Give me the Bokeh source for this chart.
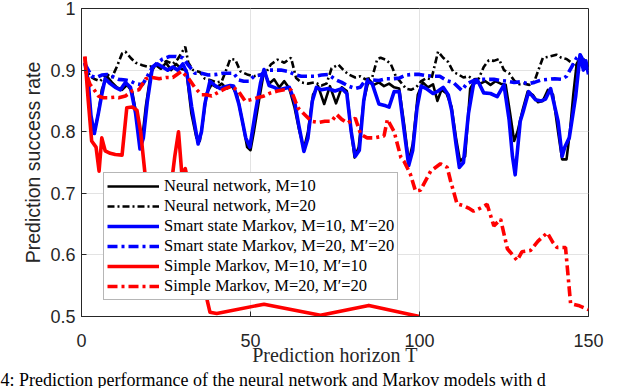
from bokeh.plotting import figure
from bokeh.models import Legend, LegendItem, FixedTicker, Range1d, Title
from bokeh.embed import file_html
from bokeh.resources import INLINE

# ---------------- data ----------------
x_ticks = [0, 50, 100, 150]
y_ticks = [0.5, 0.6, 0.7, 0.8, 0.9, 1.0]
y_tick_labels = ["0.5", "0.6", "0.7", "0.8", "0.9", "1"]

labels = [
    "Neural network, M=10",
    "Neural network, M=20",
    "Smart state Markov, M=10, M\u2032=20",
    "Smart state Markov, M=20, M\u2032=20",
    "Simple Markov, M=10, M\u2032=10",
    "Simple Markov, M=20, M\u2032=20",
]

nn10_T = [1, 2, 3, 3.8, 5, 6, 7.5, 9, 10.5, 12, 13.5, 15, 16.5, 17.7, 19, 20.5, 22, 23.5, 25, 26.5,
          28, 29.5, 31, 32.5, 34, 35, 36, 37, 38.5, 40, 41.5, 43, 44.5, 46, 47.5, 49, 50, 51, 52.5, 54,
          55.5, 57, 58.5, 60, 61.5, 63, 64.5, 65.8, 67, 68.5, 70, 71.8, 73.5, 75.3, 77, 78.5, 79.8, 80.8,
          82, 83.5, 85, 86.5, 88, 89.5, 91, 92.5, 94, 95.5, 96.8, 98, 99.5, 101, 102.5, 104, 105.3, 106.5,
          108, 109.5, 110.8, 112, 113.5, 115, 116.5, 118, 119.5, 121, 122.5, 124, 125.5, 126.8, 128, 129,
          130.5, 132, 133.5, 135, 136.5, 138, 139.5, 141, 142.2, 143.5, 144.5, 145.5, 146.5, 147.5, 148.5, 150]
nn10 = [0.912, 0.875, 0.81, 0.80, 0.83, 0.868, 0.89, 0.88, 0.872, 0.868, 0.876, 0.865, 0.82, 0.775, 0.84,
        0.895, 0.91, 0.902, 0.912, 0.90, 0.91, 0.902, 0.90, 0.83, 0.79, 0.785, 0.82, 0.862, 0.877, 0.872,
        0.878, 0.87, 0.874, 0.86, 0.82, 0.775, 0.77, 0.80, 0.85, 0.898, 0.878, 0.885, 0.872, 0.882, 0.87,
        0.84, 0.80, 0.772, 0.80, 0.86, 0.874, 0.845, 0.874, 0.846, 0.872, 0.866, 0.80, 0.758, 0.775, 0.85,
        0.885, 0.876, 0.88, 0.874, 0.878, 0.872, 0.87, 0.81, 0.752, 0.78, 0.86, 0.88, 0.872, 0.877, 0.85,
        0.868, 0.862, 0.84, 0.79, 0.752, 0.76, 0.87, 0.884, 0.878, 0.882, 0.876, 0.882, 0.878, 0.876, 0.83,
        0.785, 0.80, 0.835, 0.865, 0.86, 0.848, 0.85, 0.868, 0.86, 0.80, 0.755, 0.755, 0.80, 0.86, 0.91,
        0.92, 0.905, 0.90]

nn20_T = [1, 2.5, 4, 5.5, 7.5, 9, 10.5, 12, 13, 14.5, 16, 18, 20, 22, 23.5, 25, 27, 28.5, 30.7, 31.6, 33,
          35, 36.5, 38, 40, 41.5, 43, 44, 45.5, 47, 49, 51, 53, 54.5, 56, 58, 60, 62, 63.5, 65, 67, 69, 71,
          72.5, 74, 76, 77.5, 79, 81, 82.5, 84, 86, 87.5, 88.5, 90, 91.5, 93, 94.5, 96, 97.5, 99, 100.5, 102,
          103.5, 105.5, 107, 108.5, 110, 111.5, 113, 114.5, 116, 117.5, 119, 120.5, 122, 123.5, 125, 126.5,
          128, 129.5, 131, 132.5, 134, 135.5, 136.5, 138.5, 140.5, 142, 143.5, 145, 146, 147, 148.5, 150]
nn20 = [0.91, 0.89, 0.885, 0.882, 0.893, 0.888, 0.906, 0.927, 0.93, 0.92, 0.912, 0.908, 0.905, 0.908,
        0.902, 0.915, 0.91, 0.918, 0.938, 0.912, 0.90, 0.897, 0.886, 0.884, 0.88, 0.882, 0.903, 0.918,
        0.917, 0.898, 0.893, 0.89, 0.893, 0.895, 0.909, 0.917, 0.912, 0.92, 0.887, 0.88, 0.878, 0.88, 0.875,
        0.878, 0.903, 0.909, 0.90, 0.893, 0.888, 0.89, 0.885, 0.888, 0.918, 0.92, 0.917, 0.91, 0.89, 0.88,
        0.87, 0.868, 0.872, 0.882, 0.887, 0.885, 0.93, 0.92, 0.913, 0.897, 0.893, 0.888, 0.89, 0.885, 0.886,
        0.905, 0.916, 0.915, 0.918, 0.90, 0.895, 0.883, 0.877, 0.878, 0.876, 0.882, 0.905, 0.92, 0.922,
        0.925, 0.92, 0.918, 0.912, 0.905, 0.912, 0.918, 0.905]

ss10_T = [1, 2, 2.8, 3.8, 5, 6, 7, 8.5, 10, 11.5, 13, 14.5, 16, 17.3, 18.3, 19.5, 21, 22.5, 24, 25.5, 27,
          28.5, 30, 31.2, 32.6, 34.5, 35.5, 36.5, 38, 39.5, 41, 42.5, 44, 45, 46.6, 48.6, 49.8, 51.5, 53, 54,
          55.5, 57, 58.5, 60, 61.5, 63, 64.3, 65.8, 67, 68.3, 69.5, 71, 73, 75, 77, 78.5, 79.8, 81, 82.2,
          83.5, 84.5, 86, 88, 90, 91, 92.5, 94, 95.5, 96.8, 98, 99.3, 100.5, 102, 104, 105.5, 107, 108.5,
          109.5, 110.8, 111.8, 113, 114.5, 116, 117.3, 119, 121, 123, 125, 126.5, 127.5, 128.3, 129.8, 130.8,
          132.3, 134.3, 136, 137.3, 138.8, 141, 142.2, 143, 144.3, 146.2, 147.5, 148.5, 149.2, 150]
ss10 = [0.912, 0.88, 0.826, 0.797, 0.83, 0.86, 0.886, 0.878, 0.872, 0.868, 0.88, 0.872, 0.83, 0.772, 0.79,
        0.85, 0.905, 0.91, 0.905, 0.90, 0.905, 0.90, 0.91, 0.895, 0.84, 0.78, 0.80, 0.845, 0.882, 0.875,
        0.87, 0.873, 0.875, 0.874, 0.844, 0.79, 0.775, 0.833, 0.88, 0.901, 0.875, 0.872, 0.868, 0.87, 0.872,
        0.85, 0.81, 0.768, 0.79, 0.85, 0.872, 0.868, 0.87, 0.866, 0.87, 0.862, 0.80, 0.76, 0.77, 0.85,
        0.882, 0.878, 0.845, 0.842, 0.84, 0.865, 0.865, 0.80, 0.745, 0.77, 0.84, 0.874, 0.87, 0.862, 0.866,
        0.872, 0.86, 0.835, 0.78, 0.742, 0.75, 0.83, 0.878, 0.882, 0.863, 0.862, 0.857, 0.876, 0.82, 0.76,
        0.73, 0.817, 0.835, 0.865, 0.852, 0.85, 0.853, 0.87, 0.817, 0.76, 0.775, 0.79, 0.857, 0.925, 0.90,
        0.915, 0.893]

ss20_T = [1, 3, 4.5, 6, 7.5, 9, 11, 13, 14.5, 16, 18, 19.3, 21, 22.5, 24, 26, 28, 30, 31.6, 33.5, 35.5,
          37.5, 40, 42, 45, 46.5, 48, 49.5, 51, 53, 55, 57, 59, 61, 63, 65, 67, 69, 71, 73, 75, 77, 79, 81,
          82.5, 84, 86, 88, 90, 92, 94, 96, 98, 100, 102, 104, 106, 108, 110, 112.5, 114, 116, 118, 120, 122,
          124, 126, 128, 130, 132, 134, 136, 138, 140, 142, 143.5, 145, 146.5, 147.5, 148.5, 150]
ss20 = [0.91, 0.89, 0.888, 0.892, 0.893, 0.89, 0.885, 0.884, 0.882, 0.878, 0.876, 0.888, 0.905, 0.912,
        0.918, 0.922, 0.922, 0.92, 0.908, 0.895, 0.895, 0.892, 0.893, 0.895, 0.895, 0.884, 0.882, 0.882,
        0.89, 0.892, 0.90, 0.90, 0.90, 0.898, 0.893, 0.89, 0.89, 0.89, 0.892, 0.893, 0.885, 0.88, 0.874,
        0.87, 0.872, 0.884, 0.884, 0.883, 0.886, 0.886, 0.887, 0.892, 0.893, 0.893, 0.891, 0.89, 0.89,
        0.883, 0.88, 0.867, 0.878, 0.883, 0.885, 0.885, 0.885, 0.883, 0.882, 0.88, 0.881, 0.878, 0.88,
        0.884, 0.885, 0.886, 0.885, 0.89, 0.905, 0.92, 0.925, 0.915, 0.908]

sm10_T = [1, 2, 3, 4.3, 5.2, 6, 7, 8.5, 10, 12, 13.4, 15, 16.4, 17.5, 18.8, 20.3, 21.3, 23, 25, 26.7, 27.6,
          28.7, 29.7, 30.7, 31.7, 33, 35, 37.2, 38, 40, 54, 70.7, 85, 100]
sm10 = [0.922, 0.85, 0.785, 0.775, 0.736, 0.79, 0.769, 0.765, 0.763, 0.762, 0.839, 0.84, 0.835, 0.80,
        0.731, 0.73, 0.72, 0.70, 0.70, 0.72, 0.76, 0.80, 0.73, 0.74, 0.715, 0.68, 0.62, 0.526, 0.507, 0.505,
        0.52, 0.502, 0.518, 0.50]

sm20_T = [1, 1.5, 2.5, 4, 5, 6.5, 8, 10, 11, 13, 15, 17, 19, 21, 23, 25, 27, 29.6, 31.6, 33.6, 35.5, 37,
          38.5, 40.5, 42.5, 44.4, 46.4, 48.4, 50, 52, 54, 56, 58, 60, 62, 64, 66, 68, 70, 72, 74, 75.5, 77,
          78.7, 81, 82.6, 84.5, 86.5, 89.5, 90.5, 92.5, 94.5, 95.4, 97.3, 98.8, 100.3, 103.3, 106.2, 108.2,
          109.2, 111.1, 113, 114.5, 116, 118, 120, 122, 124, 126, 128.9, 130.3, 132.8, 135, 137.8, 139.5,
          140.7, 143.2, 144.7, 147, 149.6, 150]
sm20 = [0.922, 0.893, 0.877, 0.866, 0.858, 0.855, 0.855, 0.856, 0.855, 0.858, 0.866, 0.868, 0.886, 0.888,
        0.886, 0.888, 0.888, 0.898, 0.887, 0.871, 0.86, 0.86, 0.858, 0.864, 0.87, 0.874, 0.866, 0.85, 0.852,
        0.855, 0.858, 0.863, 0.866, 0.868, 0.868, 0.839, 0.828, 0.817, 0.815, 0.817, 0.817, 0.828, 0.82,
        0.814, 0.822, 0.796, 0.79, 0.79, 0.793, 0.82, 0.80, 0.758, 0.752, 0.731, 0.704, 0.705, 0.736, 0.748,
        0.742, 0.72, 0.683, 0.68, 0.676, 0.671, 0.676, 0.682, 0.647, 0.658, 0.61, 0.591, 0.605, 0.607,
        0.622, 0.636, 0.62, 0.612, 0.612, 0.521, 0.518, 0.512, 0.511]

caption = "4: Prediction performance of the neural network and Markov models with d"

# ---------------- figure ----------------
AX = "#262626"
p = figure(width=624, height=388, output_backend="svg", toolbar_location=None,
           x_range=Range1d(0, 150), y_range=Range1d(0.5, 1.0),
           min_border_left=81, min_border_right=36, min_border_top=8, min_border_bottom=72,
           background_fill_color="white", border_fill_color="white")
p.outline_line_color = AX
p.outline_line_width = 1

p.xaxis.ticker = FixedTicker(ticks=x_ticks)
p.yaxis.ticker = FixedTicker(ticks=y_ticks)
p.yaxis.major_label_overrides = dict(zip(y_ticks, y_tick_labels))

for ax in [p.xaxis[0], p.yaxis[0]]:
    ax.major_tick_in = 5
    ax.major_tick_out = 0
    ax.minor_tick_in = 0
    ax.minor_tick_out = 0
    ax.axis_line_color = AX
    ax.major_tick_line_color = AX
    ax.major_label_text_font = "Liberation Sans"
    ax.major_label_text_font_size = "18px"
    ax.major_label_text_color = AX
p.yaxis.major_label_standoff = 6
p.xaxis.major_label_standoff = 17
p.yaxis.axis_label = "Prediction success rate"
p.yaxis.axis_label_text_font = "Liberation Sans"
p.yaxis.axis_label_text_font_size = "19.5px"
p.yaxis.axis_label_text_font_style = "normal"
p.yaxis.axis_label_text_color = AX
p.yaxis.axis_label_standoff = 3

p.xaxis.axis_label = "Prediction horizon T"
p.xaxis.axis_label_text_font = "Liberation Serif"
p.xaxis.axis_label_text_font_size = "20px"
p.xaxis.axis_label_text_font_style = "normal"
p.xaxis.axis_label_text_color = AX
p.xaxis.axis_label_standoff = -6

p.xgrid.grid_line_color = "#e3e3e3"
p.ygrid.grid_line_color = "#e3e3e3"

# ---------------- lines ----------------
r1 = p.line(nn10_T, nn10, line_color="black", line_width=2.6, line_join="round")
r2 = p.line(nn20_T, nn20, line_color="black", line_width=2.6, line_dash="7 3 2 3")
r3 = p.line(ss10_T, ss10, line_color="#0000ff", line_width=3.6, line_join="round")
r4 = p.line(ss20_T, ss20, line_color="#0000ff", line_width=3.6, line_dash="10 4 3 4")
r5 = p.line(sm10_T, sm10, line_color="#ff0000", line_width=3.6, line_join="round")
r6 = p.line(sm20_T, sm20, line_color="#ff0000", line_width=3.6, line_dash="10 4 3 4")

legend = Legend(items=[LegendItem(label=l, renderers=[r]) for l, r in zip(labels, [r1, r2, r3, r4, r5, r6])],
                location=(22, 16), glyph_width=52, glyph_height=18, label_height=18, spacing=0,
                padding=3, margin=0, label_standoff=5,
                label_text_font="Liberation Serif", label_text_font_size="16.5px", label_text_color="black",
                border_line_color="#6e6e6e", border_line_width=1.5,
                background_fill_color="white", background_fill_alpha=1.0)
p.add_layout(legend)

# caption line, cut by the bottom edge as in the reference
cap = Title(text=caption, align="left", offset=-81, standoff=-2,
            text_font="Liberation Serif", text_font_size="18px", text_font_style="normal",
            text_color="black")
p.add_layout(cap, "below")

open("out.html", "w").write(file_html(p, INLINE))
